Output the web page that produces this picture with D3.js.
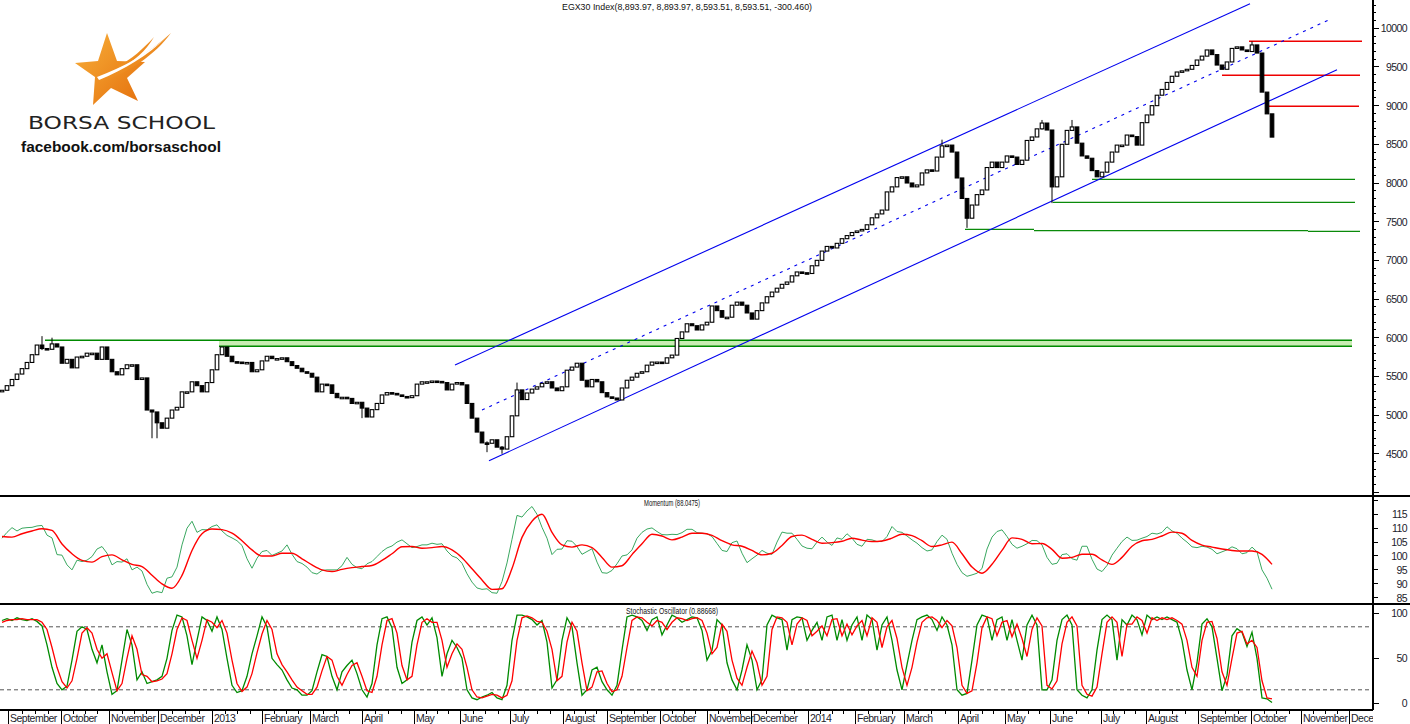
<!DOCTYPE html>
<html><head><meta charset="utf-8">
<script src="https://cdn.jsdelivr.net/npm/d3@7"></script>
<style>
html,body{margin:0;padding:0;background:#fff;}
svg{display:block;font-family:"Liberation Sans",Arial,sans-serif;}
</style></head>
<body>
<div id="chart"></div>
<script>
// ---------------- DATA ----------------
const chartTitle = "EGX30 Index(8,893.97, 8,893.97, 8,593.51, 8,593.51, -300.460)";
const momentumTitle = "Momentum (88.0475)";
const stochTitle = "Stochastic Oscillator (0.88668)";

// closing values, one bar per two sessions (Sep 2012 - Oct 2014)
const priceClose = [5320,5380,5460,5530,5600,5680,5780,5905,5860,5850,
5920,5880,5670,5720,5610,5750,5760,5800,5800,5720,
5880,5720,5560,5520,5600,5650,5650,5460,5480,5065,
5040,4900,4830,4960,5065,5100,5300,5300,5430,5380,
5300,5420,5585,5780,5880,5760,5690,5685,5670,5680,
5560,5585,5700,5760,5730,5730,5740,5690,5640,5605,
5560,5540,5490,5300,5400,5390,5280,5225,5230,5215,
5150,5165,5090,4975,5070,5150,5260,5290,5280,5260,
5240,5225,5250,5400,5430,5430,5440,5435,5420,5325,
5400,5420,5390,5150,4960,4780,4640,4635,4680,4585,
4560,4720,4990,5325,5200,5285,5335,5365,5410,5430,
5350,5315,5365,5580,5620,5670,5450,5365,5460,5430,
5290,5235,5220,5195,5350,5450,5490,5540,5560,5645,
5685,5685,5670,5740,5775,5990,6075,6180,6155,6100,
6165,6200,6410,6350,6265,6265,6420,6460,6420,6320,
6240,6350,6450,6530,6590,6640,6690,6720,6800,6850,
6840,6830,6930,7000,7120,7180,7160,7220,7280,7320,
7360,7380,7400,7460,7550,7600,7650,7885,7950,8070,
8080,8000,7950,7975,8130,8170,8155,8335,8480,8490,
8400,8065,7800,7545,7715,7850,7910,8200,8270,8200,
8270,8350,8335,8240,8295,8550,8595,8700,8775,8685,
7950,8080,8500,8680,8725,8515,8350,8320,8160,8080,
8140,8270,8400,8490,8490,8620,8600,8490,8780,8880,
9000,9135,9210,9300,9380,9435,9450,9470,9520,9590,
9640,9720,9660,9525,9470,9565,9740,9760,9720,9700,
9785,9680,9175,8893.97,8593.51];
const firstOpen = 5300;

// notable wicks: [bar, high, low]
const wicks = [[8,6020,5840],[10,6000,5900],[30,5060,4700],[31,4950,4700],[72,5110,4960],
[97,4660,4520],[100,4600,4500],[103,5420,5290],[188,8560,8460],[193,7700,7420],[208,8815,8690],
[210,8230,7740],[214,8815,8700],[250,9830,9760]];

// trend channel: [barIndex, price] endpoints
const channelUpper = [[90.6,5647],[249.6,10319]];
const channelMiddle = [[96,5065],[265.6,10116]];
const channelLower = [[97.4,4409],[267,9465]];

// horizontal levels: [price, fromBar, toBar]
const greenBand = {top:5966, bottom:5888, topFrom:8.6, bottomFrom:43.4, to:270};
const redLevels = [[9832,249.4,272],[9392,244,271.6],[8991,253.4,271.4]];
const greenLevels = [[8047,218,270.6],[7750,210.2,270.6],[7400,192.6,206.4],[7385,206.4,261.2],[7375,261.2,271.6]];

// Momentum (green) per bar, signal (red) every 2 bars
const momentum = [106.4,108.5,110.2,109,110,110.2,110.3,110.8,111,107.5,
106.5,100.5,100.3,96.8,95,98.5,98,98.5,99.8,102.5,
103.4,101,96.8,98,97.8,99,95,96,94.6,89.8,
86.6,87.2,86.8,92,92.5,96,104,110,112.5,108.5,
109.5,109.4,110.6,111.2,109,107.4,106.5,105.5,103.8,99,
95.6,99.2,101.6,102,100.2,101,101.8,104,100.6,98,
97.3,96,94,93.5,94.8,95,95,95,96.5,99.5,
97,95.8,95.4,97.2,98,99.8,101.6,102.9,103.6,105,
105.8,104.4,103,103.4,104,104,104.6,104.2,104.4,101.8,
100,99.3,97.4,93.6,90.6,88.5,88,88.2,86.8,86.6,
90.8,97.5,106,114.6,114,116.2,117.8,115,110.3,106.4,
100.5,102.4,102.5,105.5,105.3,103.4,100.6,101.6,102.6,97.8,
94,93.8,94.8,97.2,100,100.4,102.2,106.4,108.5,109.7,
110.1,108.8,107.7,107.6,107.8,107.7,108.4,109.6,109.6,108.4,
108.2,108,107,104.5,102,101.6,104.8,105.4,101,97.6,
99,100.3,102,101,100.6,105,108.6,108.2,108.2,106,
103.6,102.8,102.6,105,106.8,105,103.8,106.5,106,108,
106.4,104.2,103.5,106,105.8,105.2,105.2,107,110.6,108.8,
108.5,107.2,105.8,104.6,103,101.8,102.2,105.2,107.5,106,
101,97,94,92.7,93.2,93.8,95.5,102.5,106.8,108.8,
109.4,107,104.2,102.8,103.5,104.4,105.6,105.5,104,99.5,
97,97.4,100.5,100.8,99,98.5,103.5,103.5,98.8,95.3,
94.4,96.6,100.3,102.8,105.2,106.8,105.6,105.7,106.4,107,
108.2,107.9,108.5,110.5,109,108.2,106.4,105,103.3,103,
103.5,103.2,102.4,100.8,101.5,102.2,103.3,102.6,100.8,101.2,
103.2,101.5,95,92,88.0475];
const momentumSignalStep = 2;
const momentumSignal = [107,106.8,108,109,109.8,109.2,104.3,100.8,98.4,97.8,
99.8,100.4,98.6,97,96.2,93.1,90,88.4,93,102,
108,109.7,109.5,108.2,105.5,102.2,100,100,101,101,
99,96.8,95,94.4,95.2,95.8,96.2,96.6,98.4,100.8,
103.3,103.4,102.8,103,103.4,102.2,99.4,95.4,91.4,88,
88.2,95.5,106.7,112.5,115,108.5,104,103.2,104,103,
99.5,96,96.5,100.5,104.4,107.8,107.2,105.8,106.8,108.2,
108.2,107.4,105.5,104,103.5,102,100.4,101,103.8,107,
107.5,106,104.6,104.8,105.3,106.4,105.7,105.2,105.4,106.4,
107.8,107.3,105.5,103.4,104,105,100.8,96,93.8,97,
102,106.5,106,104.4,104.5,102.4,99.2,99.5,100.6,100.6,
98.6,97,99.5,103.5,105.5,106,107.2,108.6,108.2,105.6,
103.9,103.2,102.5,102,101.8,101.8,100.6,97];

// Stochastic %K (green) and %D (red)
const stochK = [92,94,92,95,93,92,94,91,86,65,
40,22,15,19,48,80,85,82,60,45,
65,35,10,14,48,82,65,26,35,22,
24,26,30,50,81,98,96,75,43,70,
96,92,80,96,82,50,20,12,14,30,
55,75,96,85,50,43,37,26,17,15,
9,9,14,35,54,52,30,15,35,42,
48,33,15,7,22,65,94,96,84,40,
22,26,68,92,96,87,95,73,30,55,
70,62,50,15,6,4,7,9,12,6,
4,20,70,98,98,96,93,87,92,68,
17,26,70,95,85,45,9,15,37,40,
24,15,9,20,59,96,98,96,92,81,
93,96,76,87,98,95,90,93,96,95,
81,48,59,93,87,45,26,15,37,65,
48,15,26,87,98,95,93,59,93,96,
95,70,81,90,70,96,98,70,93,70,
87,96,70,98,93,59,87,96,70,37,
15,43,70,93,96,98,93,81,96,87,
65,15,9,11,48,87,98,96,70,93,
96,70,93,70,48,87,98,87,15,15,
26,70,93,98,87,15,9,6,15,59,
93,98,93,48,93,87,98,93,76,98,
93,96,93,96,93,90,70,37,15,45,
88,94,85,50,14,31,75,83,79,63,
79,50,6,5,0.88668];
const stochD = [90,92,93,93,94,93,93,93,90,82,
62,40,24,17,25,50,78,84,78,60,
50,55,34,14,22,50,75,60,32,30,
24,25,27,33,55,82,95,92,70,50,
70,93,90,84,92,78,48,22,13,18,
33,56,77,92,82,55,43,35,26,18,
14,10,10,18,36,52,48,30,20,32,
42,45,30,14,12,30,65,92,94,78,
42,26,30,65,90,94,90,90,70,40,
55,66,60,40,15,7,6,8,10,9,
6,9,25,70,95,97,95,91,90,80,
60,25,30,68,90,80,45,14,18,35,
36,22,13,15,30,62,92,96,95,90,
86,92,90,82,90,95,94,92,94,95,
92,78,55,62,88,80,48,28,20,40,
58,45,20,30,82,96,95,90,65,88,
95,92,75,80,86,75,93,94,75,88,
76,86,92,75,95,90,62,85,92,72,
40,20,40,68,90,95,96,92,84,92,
86,62,20,11,14,45,84,96,94,75,
90,92,74,88,72,52,82,95,86,20,
16,25,66,90,96,86,20,10,8,18,
55,90,96,90,52,88,88,96,92,78,
95,92,95,93,95,92,88,70,40,30,
70,90,91,72,35,20,50,78,80,66,
70,62,25,6,5];
const stochLevels = [85,15];

// month ticks on the bar axis
const monthLabels = ["September","October","November","December","2013","February","March","April","May","June","July","August","September","October","November","December","2014","February","March","April","May","June","July","August","September","October","November","December"];
const monthBars = [1.2,11.7,21.4,31.2,42,52,61.6,72,82.4,91.5,101.6,112.2,121,131.6,141,149.8,161.1,170.6,180.4,191.2,200.6,209.6,219.8,228.8,239.2,249.8,259.8,269.4];

const priceTicks = [4500,5000,5500,6000,6500,7000,7500,8000,8500,9000,9500,10000];
const momTicks = [85,90,95,100,105,110,115];
const stochTicks = [0,50,100];

// ---------------- LAYOUT ----------------
const W = 1410, H = 724;
const axisX = 1373;
const mainTop = 0, mainBot = 496, momTop = 496, momBot = 604, stTop = 604, stBot = 710;

const svg = d3.select("#chart").append("svg").attr("width", W).attr("height", H);

const x = d3.scaleLinear().domain([0, 274.2]).range([2, axisX]);
const y = d3.scaleLinear().domain([3953.5, 10365.9]).range([mainBot, mainTop]);
const yM = d3.scaleLinear().domain([82.73, 121.58]).range([momBot, momTop]);
const yS = d3.scaleLinear().domain([-7.44, 110.33]).range([stBot, stTop]);

const defs = svg.append("defs");
function clip(id, y0, y1) {
  defs.append("clipPath").attr("id", id).append("rect").attr("x", 0).attr("y", y0).attr("width", axisX).attr("height", y1 - y0);
}
clip("cMain", mainTop, mainBot); clip("cMom", momTop, momBot); clip("cSt", stTop, stBot);
defs.append("clipPath").attr("id", "cAxis").append("rect").attr("x", 0).attr("y", stBot).attr("width", axisX).attr("height", H - stBot);

// ---------- logo ----------
const grad = defs.append("linearGradient").attr("id", "orange").attr("x1", 0).attr("y1", 0).attr("x2", 1).attr("y2", 1);
grad.append("stop").attr("offset", "0%").attr("stop-color", "#f8b03a");
grad.append("stop").attr("offset", "100%").attr("stop-color", "#e46f0c");
const logo = svg.append("g");
logo.append("path").attr("fill", "url(#orange)")
  .attr("d", "M107,33 L98,61 L75,63 L95,77 L93,105 L111,88 L138,101 L127,78 L145,62 L117,61 Z");
logo.append("path").attr("fill", "url(#orange)")
  .attr("d", "M99,79 C125,68 150,52 171,33 C155,55 128,73 101,82 Z");
logo.append("path").attr("fill", "url(#orange)")
  .attr("d", "M118,66 C132,59 143,49 154,37 C146,51 134,61 120,69 Z");
logo.append("path").attr("fill", "#fff")
  .attr("d", "M97,77 C124,67 148,53 167,37 C148,55 124,70 99,80 Z");
logo.append("text").attr("x", 28).attr("y", 129).attr("font-size", 18).attr("fill", "#222")
  .attr("textLength", 187).attr("lengthAdjust", "spacingAndGlyphs")
  .style("font-family", "'DejaVu Sans',sans-serif").text("BORSA SCHOOL");
logo.append("text").attr("x", 21).attr("y", 152).attr("font-size", 15).attr("font-weight", "bold").attr("fill", "#111")
  .attr("textLength", 200).attr("lengthAdjust", "spacingAndGlyphs").text("facebook.com/borsaschool");

// ---------- titles ----------
svg.append("text").attr("x", 687).attr("y", 10).attr("text-anchor", "middle").attr("font-size", 9.5)
  .attr("textLength", 250).attr("lengthAdjust", "spacingAndGlyphs").attr("fill", "#111").text(chartTitle);
svg.append("text").attr("x", 672).attr("y", 506).attr("text-anchor", "middle").attr("font-size", 9)
  .attr("textLength", 56).attr("lengthAdjust", "spacingAndGlyphs").attr("fill", "#111").text(momentumTitle);
svg.append("text").attr("x", 672).attr("y", 614).attr("text-anchor", "middle").attr("font-size", 9)
  .attr("textLength", 92).attr("lengthAdjust", "spacingAndGlyphs").attr("fill", "#111").text(stochTitle);

// ---------- main panel ----------
const gMain = svg.append("g").attr("clip-path", "url(#cMain)");

// green band
gMain.append("rect").attr("x", x(greenBand.bottomFrom)).attr("y", y(greenBand.top))
  .attr("width", x(greenBand.to) - x(greenBand.bottomFrom)).attr("height", y(greenBand.bottom) - y(greenBand.top))
  .attr("fill", "#c9ecb3");
gMain.append("line").attr("x1", x(greenBand.topFrom)).attr("x2", x(greenBand.to))
  .attr("y1", y(greenBand.top)).attr("y2", y(greenBand.top)).attr("stroke", "#008a00").attr("stroke-width", 1.5);
gMain.append("line").attr("x1", x(greenBand.bottomFrom)).attr("x2", x(greenBand.to))
  .attr("y1", y(greenBand.bottom)).attr("y2", y(greenBand.bottom)).attr("stroke", "#008a00").attr("stroke-width", 1.5);

greenLevels.forEach(([p, a, b]) => gMain.append("line").attr("x1", x(a)).attr("x2", x(b)).attr("y1", y(p)).attr("y2", y(p))
  .attr("stroke", "#0a8a0a").attr("stroke-width", 1.3));
redLevels.forEach(([p, a, b]) => gMain.append("line").attr("x1", x(a)).attr("x2", x(b)).attr("y1", y(p)).attr("y2", y(p))
  .attr("stroke", "#ee0000").attr("stroke-width", 1.5));

// channel
const chLine = d3.line().x(d => x(d[0])).y(d => y(d[1]));
gMain.append("path").attr("d", chLine(channelUpper)).attr("stroke", "#0000ee").attr("stroke-width", 1.1).attr("fill", "none");
gMain.append("path").attr("d", chLine(channelLower)).attr("stroke", "#0000ee").attr("stroke-width", 1.1).attr("fill", "none");
gMain.append("path").attr("d", chLine(channelMiddle)).attr("stroke", "#0000ee").attr("stroke-width", 1.1)
  .attr("stroke-dasharray", "3,5").attr("fill", "none");

// wicks
gMain.selectAll(".wick").data(wicks).enter().append("line")
  .attr("x1", d => x(d[0])).attr("x2", d => x(d[0])).attr("y1", d => y(d[1])).attr("y2", d => y(d[2]))
  .attr("stroke", "#000").attr("stroke-width", 1);

// candles (open = previous close)
const candles = priceClose.map((c, i) => ({i, o: i === 0 ? firstOpen : priceClose[i - 1], c}));
gMain.selectAll(".cdl").data(candles).enter().append("rect")
  .attr("x", d => x(d.i) - 1.8)
  .attr("width", 3.6)
  .attr("y", d => y(Math.max(d.o, d.c)))
  .attr("height", d => Math.max(1.5, Math.abs(y(d.o) - y(d.c))))
  .attr("fill", d => d.c >= d.o ? "#fff" : "#000")
  .attr("stroke", "#000").attr("stroke-width", 1.1);

// ---------- momentum panel ----------
const gMom = svg.append("g").attr("clip-path", "url(#cMom)");
gMom.append("path").datum(momentum)
  .attr("d", d3.line().x((d, i) => x(i)).y(d => yM(d)))
  .attr("fill", "none").attr("stroke", "#3aa860").attr("stroke-width", 1);
gMom.append("path").datum(momentumSignal)
  .attr("d", d3.line().x((d, j) => x(j * momentumSignalStep)).y(d => yM(d)).curve(d3.curveMonotoneX))
  .attr("fill", "none").attr("stroke", "#ff0000").attr("stroke-width", 1.4);

// ---------- stochastic panel ----------
const gSt = svg.append("g").attr("clip-path", "url(#cSt)");
stochLevels.forEach(l => gSt.append("line").attr("x1", 0).attr("x2", axisX).attr("y1", yS(l)).attr("y2", yS(l))
  .attr("stroke", "#555").attr("stroke-width", 1).attr("stroke-dasharray", "4,3"));
gSt.append("path").datum(stochK)
  .attr("d", d3.line().x((d, i) => x(i)).y(d => yS(d)))
  .attr("fill", "none").attr("stroke", "#008a00").attr("stroke-width", 1.3);
gSt.append("path").datum(stochD)
  .attr("d", d3.line().x((d, i) => x(i)).y(d => yS(d)))
  .attr("fill", "none").attr("stroke", "#ff0000").attr("stroke-width", 1.3);

// ---------- frame ----------
const frame = svg.append("g").attr("stroke", "#000").attr("shape-rendering", "crispEdges");
frame.append("line").attr("x1", 0).attr("x2", W).attr("y1", mainBot).attr("y2", mainBot).attr("stroke-width", 1.5);
frame.append("line").attr("x1", 0).attr("x2", W).attr("y1", momBot).attr("y2", momBot).attr("stroke-width", 1.5);
frame.append("line").attr("x1", 0).attr("x2", axisX).attr("y1", stBot).attr("y2", stBot).attr("stroke-width", 1.2);
frame.append("line").attr("x1", axisX).attr("x2", axisX).attr("y1", 0).attr("y2", stBot).attr("stroke-width", 1.2);

// ---------- right axes ----------
const labelStyle = sel => sel.attr("font-size", 10.5).attr("fill", "#1c1c2c").attr("text-anchor", "end")
  .attr("letter-spacing", -0.6).attr("dominant-baseline", "central");
const axisG = svg.append("g");
d3.range(4000, 10400, 100).forEach(v => {
  const major = v % 500 === 0;
  axisG.append("line").attr("x1", axisX).attr("x2", axisX + (major ? 6 : 3)).attr("y1", y(v)).attr("y2", y(v))
    .attr("stroke", "#000").attr("shape-rendering", "crispEdges");
});
priceTicks.forEach(v => axisG.append("text").attr("x", 1407).attr("y", y(v)).call(labelStyle).text(v));
d3.range(85, 121, 5).forEach(v => axisG.append("line").attr("x1", axisX).attr("x2", axisX + 5).attr("y1", yM(v)).attr("y2", yM(v))
  .attr("stroke", "#000").attr("shape-rendering", "crispEdges"));
momTicks.forEach(v => axisG.append("text").attr("x", 1407).attr("y", yM(v)).call(labelStyle).text(v));
stochTicks.forEach(v => {
  axisG.append("line").attr("x1", axisX).attr("x2", axisX + 6).attr("y1", yS(v)).attr("y2", yS(v))
    .attr("stroke", "#000").attr("shape-rendering", "crispEdges");
  axisG.append("text").attr("x", 1407).attr("y", yS(v)).call(labelStyle).text(v);
});

// ---------- bottom month axis ----------
const gX = svg.append("g").attr("clip-path", "url(#cAxis)");
monthBars.forEach((b, k) => {
  const px = Math.round(x(b)) + 0.5;
  gX.append("line").attr("x1", px).attr("x2", px).attr("y1", stBot).attr("y2", H).attr("stroke", "#000");
  if (k < monthBars.length - 1) {
    const nx = x(monthBars[k + 1]);
    [1, 2, 3].forEach(q => {
      const tx = Math.round(px + (nx - px) * q / 4) + 0.5;
      gX.append("line").attr("x1", tx).attr("x2", tx).attr("y1", stBot).attr("y2", stBot + 4).attr("stroke", "#000");
    });
  }
  gX.append("text").attr("x", px + 1.5).attr("y", 722).attr("font-size", 10.5).attr("letter-spacing", -0.5)
    .attr("fill", "#1c1c2c").text(monthLabels[k]);
});
</script>
</body></html>
